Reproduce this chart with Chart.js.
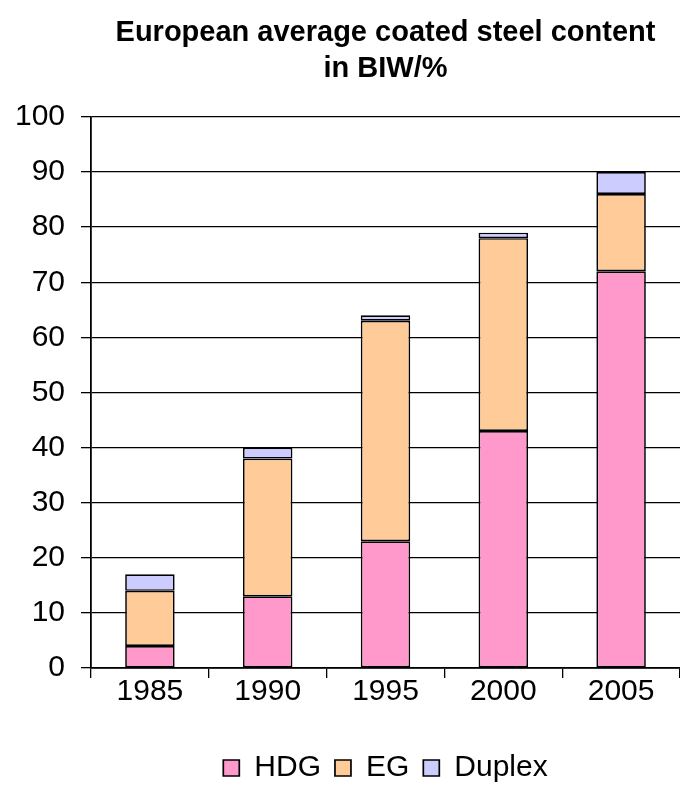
<!DOCTYPE html>
<html>
<head>
<meta charset="utf-8">
<script src="https://cdn.jsdelivr.net/npm/chart.js@4.4.1/dist/chart.umd.min.js"></script>
<style>
  html, body { margin: 0; padding: 0; background: #ffffff; }
  #box { width: 680px; height: 806px; }
</style>
</head>
<body>
<div id="box"><canvas id="chart" width="680" height="806"></canvas></div>
<script>
// Share of coated steel in the body-in-white, per coating type (%)
const years = ['1985', '1990', '1995', '2000', '2005'];
const hdg = [4, 13, 23, 43, 72];
const eg = [10, 25, 40, 35, 14];
const duplex = [3, 2, 1, 1, 4];
const yMin = 0;
const yMax = 100;
const yStep = 10;

const FONT = "'Liberation Sans', Arial, Helvetica, sans-serif";
const INK = '#000000';

const barStyle = {
  borderColor: INK,
  borderWidth: 1.7,
  borderSkipped: false,
  barPercentage: 0.42,
  categoryPercentage: 1.0
};

new Chart(document.getElementById('chart'), {
  type: 'bar',
  data: {
    labels: years,
    datasets: [
      Object.assign({ label: 'HDG', data: hdg, backgroundColor: '#FF99CC' }, barStyle),
      Object.assign({ label: 'EG', data: eg, backgroundColor: '#FFCC99' }, barStyle),
      Object.assign({ label: 'Duplex', data: duplex, backgroundColor: '#CCCCFF' }, barStyle)
    ]
  },
  options: {
    responsive: false,
    animation: false,
    layout: { padding: { left: 0, right: 0, top: 0, bottom: 13 } },
    plugins: {
      title: {
        display: true,
        fullSize: false,
        text: ['European average coated steel content', 'in BIW/%'],
        color: INK,
        font: { family: FONT, size: 29, weight: 'bold', lineHeight: 1.24 },
        padding: { top: 15, bottom: 30 }
      },
      legend: {
        display: true,
        position: 'bottom',
        fullSize: false,
        maxHeight: 55,
        labels: {
          color: INK,
          font: { family: FONT, size: 30 },
          boxWidth: 16,
          boxHeight: 16,
          padding: 14,
          useBorderRadius: false
        }
      },
      tooltip: { enabled: false }
    },
    scales: {
      x: {
        stacked: true,
        grid: {
          display: true,
          drawOnChartArea: false,
          drawTicks: true,
          tickLength: 10,
          color: INK,
          lineWidth: 1.3,
          offset: true
        },
        border: { display: true, color: INK, width: 1.8 },
        ticks: {
          color: INK,
          font: { family: FONT, size: 30, lineHeight: 1 },
          padding: -1,
          maxRotation: 0
        },
        afterFit: (scale) => { scale.height = 71; }
      },
      y: {
        stacked: true,
        min: yMin,
        max: yMax,
        grid: {
          color: INK,
          lineWidth: 1.3,
          drawTicks: true,
          tickLength: 10
        },
        border: { display: true, color: INK, width: 1.8 },
        ticks: {
          stepSize: yStep,
          color: INK,
          font: { family: FONT, size: 30 },
          padding: 16
        },
        afterFit: (scale) => { scale.width = 91; }
      }
    }
  }
});
</script>
</body>
</html>
